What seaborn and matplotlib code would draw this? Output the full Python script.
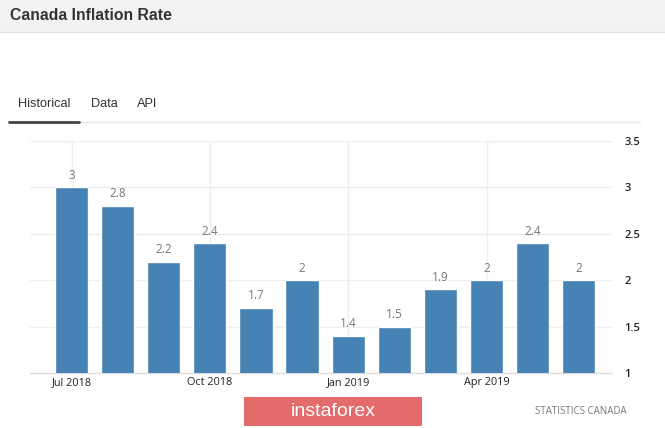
import matplotlib
matplotlib.use("Agg")
import matplotlib.pyplot as plt
from matplotlib.patches import Rectangle
import seaborn as sns
import pandas as pd

months = ["Jul 2018", "Aug 2018", "Sep 2018", "Oct 2018", "Nov 2018", "Dec 2018",
          "Jan 2019", "Feb 2019", "Mar 2019", "Apr 2019", "May 2019", "Jun 2019"]
rate = [3.0, 2.8, 2.2, 2.4, 1.7, 2.0, 1.4, 1.5, 1.9, 2.0, 2.4, 2.0]
shown_months = ["Jul 2018", "Oct 2018", "Jan 2019", "Apr 2019"]
y_ticks = [1, 1.5, 2, 2.5, 3, 3.5]

df = pd.DataFrame({"month": months, "rate": rate})

sns.set_theme(style="white")
plt.rcParams["font.family"] = ["Open Sans", "DejaVu Sans"]
sans = ["Liberation Sans", "DejaVu Sans"]

W, H = 665, 428
fig = plt.figure(figsize=(W / 100, H / 100), dpi=100)
fig.patch.set_facecolor("white")

def fx(px):
    return px / W

def fy(py):
    return 1 - py / H

# header band
fig.patches.append(Rectangle((0, fy(32)), 1, 32 / H, transform=fig.transFigure,
                             facecolor="#f2f2f2", edgecolor="none", zorder=0))
fig.lines.append(plt.Line2D([0, 1], [fy(32), fy(32)], transform=fig.transFigure,
                            color="#e2e2e2", lw=1))
fig.text(fx(10), fy(15), "Canada Inflation Rate", family=sans, fontweight="bold",
         fontsize=11.3, color="#333333", va="center", ha="left")

# tabs
fig.text(fx(18), fy(104), "Historical", family=sans, fontsize=9.2, color="#333333", va="center")
fig.text(fx(91), fy(104), "Data", family=sans, fontsize=9.2, color="#333333", va="center")
fig.text(fx(137), fy(104), "API", family=sans, fontsize=9.2, color="#333333", va="center")
fig.lines.append(plt.Line2D([fx(10), fx(640)], [fy(122), fy(122)], transform=fig.transFigure,
                            color="#e6e6e6", lw=1))
fig.lines.append(plt.Line2D([fx(9), fx(79)], [fy(122), fy(122)], transform=fig.transFigure,
                            color="#444444", lw=2))

ax = fig.add_axes([fx(30), fy(373), 582 / W, 232 / H])
sns.barplot(data=df, x="month", y="rate", color="#4682b4", saturation=1,
            width=0.72, ax=ax, zorder=3)
ax.set_ylim(1, 3.5)
ax.set_xlim(-0.9, 11.72)

for v in y_ticks[1:]:
    ax.axhline(v, color="#eeeeee", lw=1, zorder=1)
for m in shown_months:
    ax.axvline(months.index(m), color="#eeeeee", lw=1, zorder=1)

ax.bar_label(ax.containers[0], fmt="%g", padding=4, fontsize=8.5, color="#777777")

ax.set_xticks([months.index(m) for m in shown_months])
ax.set_xticklabels(shown_months, fontsize=7.8, color="#222222", fontweight="medium")
ax.yaxis.tick_right()
ax.set_yticks(y_ticks)
ax.set_yticklabels([f"{v:g}" for v in y_ticks], fontsize=8, color="#222222",
                   fontweight="semibold")
ax.tick_params(axis="both", length=0)
ax.tick_params(axis="y", pad=9)
ax.tick_params(axis="x", pad=3)
ax.set_xlabel("")
ax.set_ylabel("")
for side in ["top", "left", "right"]:
    ax.spines[side].set_visible(False)
ax.spines["bottom"].set_color("#dddddd")
ax.spines["bottom"].set_linewidth(1)

# footer
fig.patches.append(Rectangle((fx(244), fy(426)), 178 / W, 29 / H, transform=fig.transFigure,
                             facecolor="#e36b6b", edgecolor="none"))
fig.text(fx(333), fy(411), "instaforex", family=sans, fontsize=14, color="white",
         ha="center", va="center")
fig.text(fx(627), fy(411), "STATISTICS CANADA", fontsize=7, color="#777777",
         ha="right", va="center")

fig.savefig("out.png", dpi=100)
